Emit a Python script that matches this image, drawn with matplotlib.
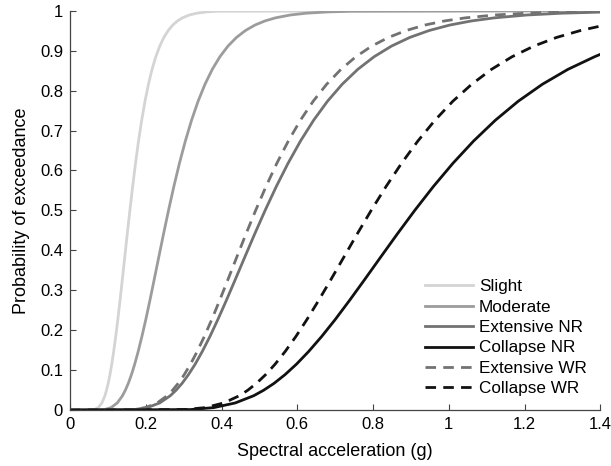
import numpy as np
import matplotlib
matplotlib.use('Agg')
import matplotlib.pyplot as plt

plt.rcParams['font.family'] = ['Liberation Sans', 'DejaVu Sans']

# fragility curves (x = Sa in g, y = probability of exceedance)
slight_x = [0, 0.0642, 0.0746, 0.0842, 0.0921, 0.0963, 0.1007, 0.1054, 0.1102, 0.1153, 0.1206,
            0.1262, 0.1320, 0.1380, 0.1444, 0.1510, 0.158, 0.1653, 0.1729, 0.1808, 0.1892,
            0.1979, 0.2070, 0.2165, 0.2265, 0.2369, 0.2478, 0.2592, 0.2711, 0.2836, 0.2967,
            0.3150, 0.3345, 0.3605, 0.3886, 1.4]
slight_y = [0, 0.0013, 0.0062, 0.0179, 0.0359, 0.0495, 0.0668, 0.0885, 0.1151, 0.1469, 0.1841,
            0.2266, 0.2743, 0.3264, 0.3821, 0.4404, 0.5, 0.5596, 0.6179, 0.6736, 0.7257,
            0.7734, 0.8159, 0.8531, 0.8849, 0.9115, 0.9332, 0.9505, 0.9641, 0.9744, 0.9821,
            0.9893, 0.9938, 0.9970, 0.9987, 1.0]

moderate_x = [0, 0.0910, 0.1084, 0.1247, 0.1385, 0.1459, 0.1538, 0.1621, 0.1708, 0.1800, 0.1897,
              0.2000, 0.2108, 0.2221, 0.2341, 0.2467, 0.26, 0.2740, 0.2888, 0.3044, 0.3208,
              0.3381, 0.3563, 0.3755, 0.3957, 0.4170, 0.4395, 0.4632, 0.4882, 0.5145, 0.5422,
              0.5815, 0.6237, 0.6807, 0.7430, 1.4]
moderate_y = [0, 0.0013, 0.0062, 0.0179, 0.0359, 0.0495, 0.0668, 0.0885, 0.1151, 0.1469, 0.1841,
              0.2266, 0.2743, 0.3264, 0.3821, 0.4404, 0.5, 0.5596, 0.6179, 0.6736, 0.7257,
              0.7734, 0.8159, 0.8531, 0.8849, 0.9115, 0.9332, 0.9505, 0.9641, 0.9744, 0.9821,
              0.9893, 0.9938, 0.9970, 0.9987, 1.0]

ext_nr_x = [0, 0.1697, 0.2042, 0.2368, 0.2646, 0.2797, 0.2957, 0.3125, 0.3304, 0.3492, 0.3692,
            0.3902, 0.4125, 0.4360, 0.4609, 0.4872, 0.515, 0.5444, 0.5755, 0.6083, 0.6430,
            0.6797, 0.7185, 0.7595, 0.8029, 0.8487, 0.8971, 0.9483, 1.0024, 1.0596, 1.1201,
            1.2061, 1.2988, 1.4]
ext_nr_y = [0, 0.0013, 0.0062, 0.0179, 0.0359, 0.0495, 0.0668, 0.0885, 0.1151, 0.1469, 0.1841,
            0.2266, 0.2743, 0.3264, 0.3821, 0.4404, 0.5, 0.5596, 0.6179, 0.6736, 0.7257,
            0.7734, 0.8159, 0.8531, 0.8849, 0.9115, 0.9332, 0.9505, 0.9641, 0.9744, 0.9821,
            0.9893, 0.9938, 0.9965]

col_nr_x = [0, 0.3184, 0.3794, 0.4363, 0.4847, 0.5108, 0.5384, 0.5673, 0.5979, 0.6301, 0.6641,
            0.6999, 0.7376, 0.7774, 0.8193, 0.8635, 0.91, 0.9590, 1.0107, 1.0652, 1.1227,
            1.1832, 1.2470, 1.3142, 1.3850, 1.4]
col_nr_y = [0, 0.0013, 0.0062, 0.0179, 0.0359, 0.0495, 0.0668, 0.0885, 0.1151, 0.1469, 0.1841,
            0.2266, 0.2743, 0.3264, 0.3821, 0.4404, 0.5, 0.5596, 0.6179, 0.6736, 0.7257,
            0.7734, 0.8159, 0.8531, 0.8849, 0.8908]

ext_wr_x = [0, 0.1664, 0.1992, 0.2301, 0.2563, 0.2705, 0.2855, 0.3014, 0.3181, 0.3357, 0.3544,
            0.3741, 0.3948, 0.4167, 0.4398, 0.4642, 0.49, 0.5172, 0.5459, 0.5762, 0.6081,
            0.6419, 0.6775, 0.7151, 0.7547, 0.7966, 0.8408, 0.8875, 0.9367, 0.9887, 1.0436,
            1.1215, 1.2052, 1.3187, 1.4]
ext_wr_y = [0, 0.0013, 0.0062, 0.0179, 0.0359, 0.0495, 0.0668, 0.0885, 0.1151, 0.1469, 0.1841,
            0.2266, 0.2743, 0.3264, 0.3821, 0.4404, 0.5, 0.5596, 0.6179, 0.6736, 0.7257,
            0.7734, 0.8159, 0.8531, 0.8849, 0.9115, 0.9332, 0.9505, 0.9641, 0.9744, 0.9821,
            0.9893, 0.9938, 0.9970, 0.9982]

col_wr_x = [0, 0.3044, 0.3572, 0.4060, 0.4469, 0.4689, 0.4919, 0.5161, 0.5415, 0.5681, 0.5961,
            0.6253, 0.6561, 0.6884, 0.7223, 0.7577, 0.795, 0.8341, 0.8751, 0.9181, 0.9633,
            1.0106, 1.0604, 1.1124, 1.1671, 1.2245, 1.2848, 1.3479, 1.4]
col_wr_y = [0, 0.0013, 0.0062, 0.0179, 0.0359, 0.0495, 0.0668, 0.0885, 0.1151, 0.1469, 0.1841,
            0.2266, 0.2743, 0.3264, 0.3821, 0.4404, 0.5, 0.5596, 0.6179, 0.6736, 0.7257,
            0.7734, 0.8159, 0.8531, 0.8849, 0.9115, 0.9332, 0.9505, 0.9615]

xticks = [0, 0.2, 0.4, 0.6, 0.8, 1, 1.2, 1.4]
xtick_labels = ['0', '0.2', '0.4', '0.6', '0.8', '1', '1.2', '1.4']
yticks = [0, 0.1, 0.2, 0.3, 0.4, 0.5, 0.6, 0.7, 0.8, 0.9, 1]
ytick_labels = ['0', '0.1', '0.2', '0.3', '0.4', '0.5', '0.6', '0.7', '0.8', '0.9', '1']

fig = plt.figure(figsize=(6.11, 4.66), dpi=100)
ax = fig.add_axes([0.1146, 0.120, 0.868, 0.857])

dash = (0, (3.8, 2.6))
lw = 2.0
ax.plot(slight_x, slight_y, color='#d4d4d4', lw=lw, label='Slight')
ax.plot(moderate_x, moderate_y, color='#9c9c9c', lw=lw, label='Moderate')
ax.plot(ext_nr_x, ext_nr_y, color='#727272', lw=lw, label='Extensive NR')
ax.plot(col_nr_x, col_nr_y, color='#111111', lw=lw, label='Collapse NR')
ax.plot(ext_wr_x, ext_wr_y, color='#727272', lw=lw, ls=dash, label='Extensive WR')
ax.plot(col_wr_x, col_wr_y, color='#111111', lw=lw, ls=dash, label='Collapse WR')

ax.set_xlim(0, 1.4)
ax.set_ylim(0, 1)
ax.set_xticks(xticks)
ax.set_xticklabels(xtick_labels)
ax.set_yticks(yticks)
ax.set_yticklabels(ytick_labels)
ax.tick_params(direction='in', length=4, width=0.8, color='#444444', labelsize=12, pad=5)
for s in ['top', 'right']:
    ax.spines[s].set_visible(False)
for s in ['left', 'bottom']:
    ax.spines[s].set_color('#444444')
    ax.spines[s].set_linewidth(0.9)

ax.set_xlabel('Spectral acceleration (g)', fontsize=13, labelpad=8)
ax.set_ylabel('Probability of exceedance', fontsize=13, labelpad=7)

ax.legend(loc='lower right', bbox_to_anchor=(1.0, 0.0), frameon=False, fontsize=12.3,
          handlelength=2.8, handletextpad=0.35, labelspacing=0.32, borderaxespad=0.4)

fig.savefig('out.png', dpi=100)
